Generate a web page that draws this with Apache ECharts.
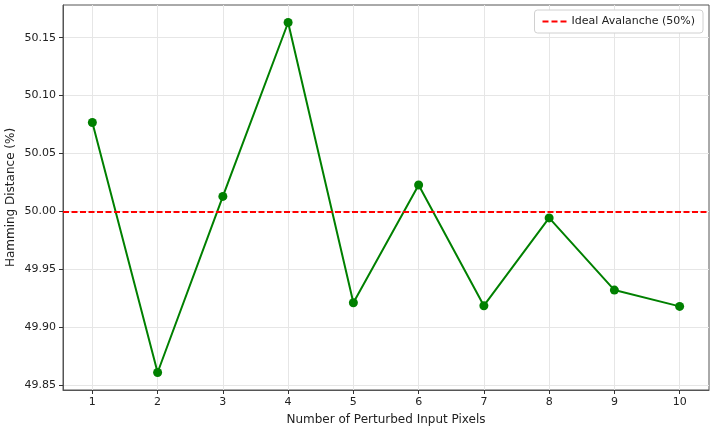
<html>
<head>
<meta charset="UTF-8" />
<title>Hamming Distance</title>
<style>
  html, body { margin: 0; padding: 0; background: #fff; }
</style>
</head>
<body>
<div id="main" style="width: 715px;height:429px;"></div>
<script type="text/javascript" src="https://cdn.jsdelivr.net/npm/echarts@6/dist/echarts.min.js"></script>
<script type="text/javascript">
// values
var pixels = [1, 2, 3, 4, 5, 6, 7, 8, 9, 10];
var hamming = [50.0767, 49.8608, 50.0129, 50.1631, 49.9211, 50.0227, 49.9185, 49.9943, 49.9320, 49.9179];
var idealValue = 50;
var yTicks = [49.85, 49.90, 49.95, 50.00, 50.05, 50.10, 50.15];
var xTicks = [1, 2, 3, 4, 5, 6, 7, 8, 9, 10];

var font = 'DejaVu Sans';
var myChart = echarts.init(document.getElementById('main'));

var points = [];
for (var i = 0; i < pixels.length; i++) {
    points.push([pixels[i], hamming[i]]);
}

// three red dashes for the legend sample
var dashIcon = 'path://M0,0h6v2h-6z M9,0h6v2h-6z M18,0h6v2h-6z';

var option = {
    animation: false,
    textStyle: { fontFamily: font },
    grid: {
        left: 63, right: 6, top: 5, bottom: 39,
        containLabel: false,
        outerBoundsMode: 'none',
        show: true, borderColor: '#555', borderWidth: 1
    },
    legend: {
        data: [{ name: 'Ideal Avalanche (50%)', icon: dashIcon }],
        right: 12, top: 10,
        orient: 'vertical',
        itemWidth: 24, itemHeight: 2,
        padding: [6, 8, 6, 8],
        borderColor: '#d0d0d0', borderWidth: 1, borderRadius: 3,
        backgroundColor: '#fff',
        textStyle: { fontFamily: font, fontSize: 11, color: '#222' }
    },
    xAxis: {
        type: 'value',
        min: 0.55, max: 10.45,
        name: 'Number of Perturbed Input Pixels',
        nameLocation: 'middle', nameGap: 24,
        nameMoveOverlap: false,
        nameTextStyle: { fontFamily: font, fontSize: 12, color: '#222' },
        axisLine: { lineStyle: { color: '#555' } },
        axisTick: { customValues: xTicks, length: 4, lineStyle: { color: '#333' } },
        axisLabel: { customValues: xTicks, fontFamily: font, fontSize: 11, color: '#222', margin: 7 },
        splitLine: { show: true, lineStyle: { color: '#e6e6e6' } }
    },
    yAxis: {
        type: 'value',
        min: 49.8457, max: 50.1782,
        name: 'Hamming Distance (%)',
        nameLocation: 'middle', nameGap: 46,
        nameMoveOverlap: false,
        nameTextStyle: { fontFamily: font, fontSize: 12, color: '#222' },
        axisLine: { show: true, lineStyle: { color: '#555' } },
        axisTick: { show: true, customValues: yTicks, length: 4, lineStyle: { color: '#333' } },
        axisLabel: {
            customValues: yTicks, fontFamily: font, fontSize: 11, color: '#222', margin: 7,
            formatter: function (v) { return v.toFixed(2); }
        },
        splitLine: { show: true, lineStyle: { color: '#e6e6e6' } }
    },
    series: [
        {
            name: 'Hamming',
            type: 'line',
            data: points,
            color: '#008000',
            lineStyle: { width: 2, color: '#008000' },
            symbol: 'circle', symbolSize: 9,
            itemStyle: { color: '#008000' },
            z: 3
        },
        {
            name: 'Ideal Avalanche (50%)',
            type: 'line',
            data: [],
            color: '#ff0000',
            symbol: 'none',
            lineStyle: { color: '#ff0000', width: 2, type: [6, 2.5] },
            markLine: {
                silent: true,
                symbol: 'none',
                label: { show: false },
                lineStyle: { color: '#ff0000', width: 2, type: [6, 2.5] },
                data: [{ yAxis: idealValue }]
            },
            z: 2
        }
    ]
};

myChart.setOption(option);
</script>
</body>
</html>
